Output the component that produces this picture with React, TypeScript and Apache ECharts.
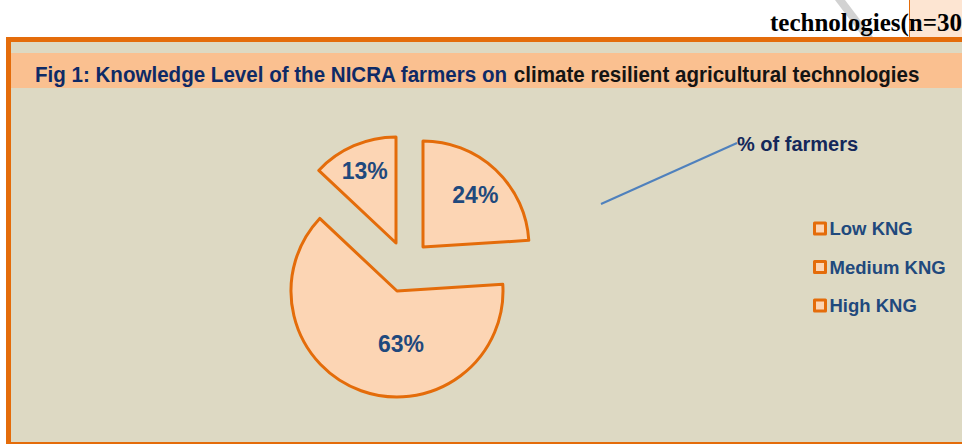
import React, { useEffect, useRef } from 'react';
import * as echarts from 'echarts';

const categories = ['Low KNG', 'Medium KNG', 'High KNG'];
const values = [24, 63, 13];
const titleDark = 'Fig 1: Knowledge Level of the NICRA farmers on ';
const titleLight = 'climate resilient agricultural technologies';
const seriesName = '% of farmers';
const headerText = 'technologies(n=30';

const W = 962;
const H = 444;
const SANS = '"Liberation Sans", Arial, sans-serif';
const SERIF = '"Liberation Serif", "Times New Roman", serif';
const sliceCenters = [[423, 247], [397, 291], [396, 243]];
const labelShift = [[14, -11], [23, 0], [-9, -21]];

export default function App() {
  const ref = useRef<HTMLDivElement>(null);
  useEffect(() => {
    document.body.style.margin = '0';
    const chart = echarts.init(ref.current!, null, { renderer: 'svg', width: W, height: H });
    const series = categories.map((_, i) => ({
      type: 'pie',
      name: seriesName,
      center: sliceCenters[i],
      radius: 106,
      startAngle: 90,
      clockwise: true,
      silent: true,
      avoidLabelOverlap: false,
      labelLine: { show: false },
      emphasis: { disabled: true },
      label: {
        position: 'inside',
        formatter: '{c}%',
        fontFamily: SANS,
        fontWeight: 'bold',
        fontSize: 23,
        color: '#1F497D',
      },
      labelLayout: () => ({ dx: labelShift[i][0], dy: labelShift[i][1] }),
      data: categories.map((name, j) => ({
        name,
        value: values[j],
        itemStyle:
          j === i
            ? { color: '#FCD5B4', borderColor: '#E46C0A', borderWidth: 3 }
            : { color: 'rgba(0,0,0,0)', borderWidth: 0 },
        label: { show: j === i },
      })),
    }));
    chart.setOption({
      animation: false,
      backgroundColor: '#ffffff',
      title: [
        {
          text: headerText,
          left: 770,
          top: 10,
          padding: 0,
          textStyle: { fontFamily: SERIF, fontWeight: 'bold', fontSize: 25, color: '#000' },
        },
        {
          text: seriesName,
          left: 737,
          top: 134,
          padding: 0,
          textStyle: { fontFamily: SANS, fontWeight: 'bold', fontSize: 20, color: '#14285A' },
        },
      ],
      legend: {
        orient: 'vertical',
        left: 813,
        top: 219,
        padding: 0,
        itemWidth: 11,
        itemHeight: 11,
        itemGap: 19.5,
        icon: 'rect',
        selectedMode: false,
        data: categories,
        itemStyle: { color: '#FCD5B4', borderColor: '#E46C0A', borderWidth: 3 },
        textStyle: { fontFamily: SANS, fontWeight: 'bold', fontSize: 18.5, color: '#1F497D', padding: [0, 0, 0, -1] },
      },
      graphic: {
        elements: [
          { type: 'polygon', z: 0, shape: { points: [[835, 0], [845, 0], [873, 37], [863, 37]] }, style: { fill: '#d2d2d2' } },
          { type: 'rect', z: 0, shape: { x: 909, y: 0, width: 60, height: 37 }, style: { fill: '#FDE5D2' } },
          { type: 'line', z: 0, shape: { x1: 909.5, y1: 0, x2: 909.5, y2: 37 }, style: { stroke: '#E46C0A', lineWidth: 1 } },
          { type: 'rect', z: 0, shape: { x: 6, y: 37, width: 970, height: 420 }, style: { fill: '#E46C0A' } },
          { type: 'rect', z: 0, shape: { x: 11, y: 42, width: 960, height: 400 }, style: { fill: '#DDD9C3' } },
          { type: 'rect', z: 0, shape: { x: 11, y: 53, width: 960, height: 35 }, style: { fill: '#FAC090' } },
          {
            type: 'text',
            z: 10,
            x: 35,
            y: 75,
            scaleX: 0.935,
            style: {
              text: '{a|' + titleDark + '}{b|' + titleLight + '}',
              x: 0,
              y: 0,
              verticalAlign: 'middle',
              rich: {
                a: { fontFamily: SANS, fontWeight: 'bold', fontSize: 22, fill: '#0E2A66' },
                b: { fontFamily: SANS, fontWeight: 'bold', fontSize: 22, fill: '#141414' },
              },
            },
          },
          { type: 'line', z: 1, shape: { x1: 601, y1: 204, x2: 737, y2: 143 }, style: { stroke: '#4F81BD', lineWidth: 2 } },
        ],
      },
      series,
    } as any);
    return () => chart.dispose();
  }, []);
  return <div ref={ref} style={{ width: W, height: H }} />;
}
